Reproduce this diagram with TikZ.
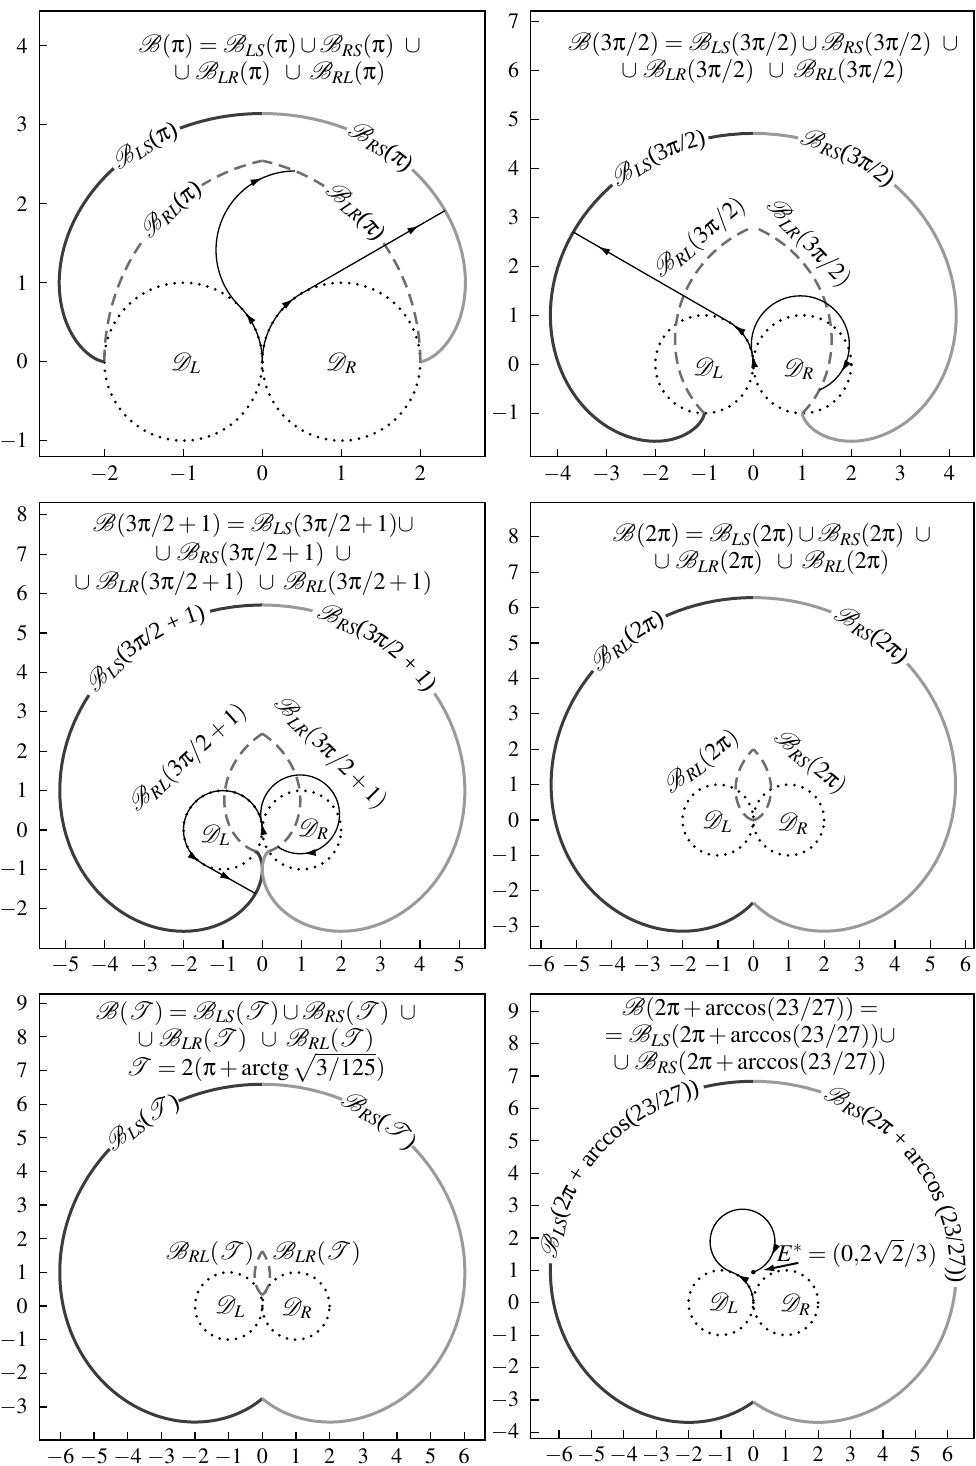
\documentclass[tikz,border=0pt]{standalone}
\usepackage{amsmath}
\usepackage{mathptmx}
\usepackage{mathrsfs}
\usepackage[Symbol]{upgreek}
\usepackage{fontspec}
\setmainfont{Liberation Serif}
\usetikzlibrary{arrows.meta,decorations.text,decorations.markings}
\definecolor{Dark}{HTML}{3C3C3C}
\definecolor{Light}{HTML}{9A9A9A}
\definecolor{Dash}{HTML}{6E6E6E}
\newcommand{\bset}{\mathscr{B}}
\newcommand{\dset}{\mathscr{D}}
\newcommand{\lscurve}[3]{plot[domain=#2:#3,samples=90,variable=\t] ({-1+cos(\t r)-(#1-\t)*sin(\t r)},{sin(\t r)+(#1-\t)*cos(\t r)})}
\newcommand{\rscurve}[3]{plot[domain=#2:#3,samples=90,variable=\t] ({1-cos(\t r)+(#1-\t)*sin(\t r)},{sin(\t r)+(#1-\t)*cos(\t r)})}
\newcommand{\lrcurve}[3]{plot[domain=#2:#3,samples=60,variable=\t] ({-1+2*cos(\t r)-cos((2*\t-#1) r)},{2*sin(\t r)-sin((2*\t-#1) r)})}
\newcommand{\rlcurve}[3]{plot[domain=#2:#3,samples=60,variable=\t] ({1-2*cos(\t r)+cos((2*\t-#1) r)},{2*sin(\t r)-sin((2*\t-#1) r)})}
\begin{document}
\begin{tikzpicture}[
    fr/.style={draw,line width=1.4pt},
    tk/.style={line width=1.2pt},
    xl/.style={anchor=north,inner sep=1pt,yshift=-7pt,font=\fontsize{22}{24}\selectfont},
    yl/.style={anchor=east,xshift=-3pt,font=\fontsize{22}{24}\selectfont},
    ls/.style={draw=Dark,line width=3pt},
    rs/.style={draw=Light,line width=3pt},
    dsh/.style={draw=Dash,line width=2.5pt,dash pattern=on 12pt off 7pt},
    dt/.style={line width=3pt,line cap=round,dash pattern=on 0pt off 8.3pt},
    tr/.style={line width=1.3pt},
    gp/.style={draw=white,line width=9pt},
    ar/.style={postaction={decorate},decoration={markings,mark=at position #1 with {\arrow{Latex[length=12pt,width=7pt]}}}},
    lb/.style={decorate,decoration={text along path,text={#1},text align=center,raise=-6.5pt}}]
\fontsize{24}{27}\selectfont
\useasboundingbox (0,0) rectangle (975pt,-1466pt);

\begin{scope}[shift={(262.3pt,-361.7pt)},x=79pt,y=79pt]
  \draw[fr] (-2.823,-1.203) rectangle (2.819,4.439);
  \foreach \x in {-2,...,2} \draw[tk] (\x,-1.203) node[xl] {$\x$} -- ++(0,8pt);
  \foreach \y in {-1,...,4} \draw[tk] (-2.823,\y) node[yl] {$\y$} -- ++(8pt,0);
  \draw[dt] (-1,0) circle[radius=1] (1,0) circle[radius=1];
  \draw[dsh] \lrcurve{3.1416}{0}{0.9046};
  \draw[dsh] \rlcurve{3.1416}{0}{0.9046};
  \draw[ls] \lscurve{3.1416}{0}{3.1416};
  \draw[rs] \rscurve{3.1416}{0}{3.1416};
  \draw[gp] \lscurve{3.1416}{0.36}{0.74};
  \draw[gp] \rscurve{3.1416}{0.37}{0.75};
  \draw[gp] \rlcurve{3.1416}{0.42}{0.68};
  \draw[gp] \lrcurve{3.1416}{0.41}{0.67};
  \path[lb={{$\bset_{LS}$}({$\uppi$})}] \lscurve{3.1416}{0.74}{0.36};
  \path[lb={{$\bset_{RS}$}({$\uppi$})}] \rscurve{3.1416}{0.37}{0.75};
  \path[lb={{$\bset_{RL}$}({$\uppi$})}] \rlcurve{3.1416}{0.42}{0.68};
  \path[lb={{$\bset_{LR}$}({$\uppi$})}] \lrcurve{3.1416}{0.67}{0.41};
  \node (dl1) at (-0.97,-0.02) {$\dset_L$};
  \node (dr1) at (1.0,-0.02) {$\dset_R$};
  \draw[tr,ar=0.85] (0,0) arc[start angle=0,end angle=45,radius=1];
  \draw[tr,ar=0.82] (-0.2929,0.7071) arc[start angle=225,end angle=90,radius=1];
  \draw[tr,ar=0.88] (0,0) arc[start angle=180,end angle=120,radius=1];
  \draw[tr,ar=0.82] (0.5,0.866) -- (2.3138,1.9132);
  \node[align=center] (ttl1) at (0.22,3.82) {$\bset(\uppi)=\bset_{LS}(\uppi)\cup\bset_{RS}(\uppi)\;\;\cup$\\$\cup\;\bset_{LR}(\uppi)\;\;\cup\;\bset_{RL}(\uppi)$};
\end{scope}

\begin{scope}[shift={(753.3pt,-364.3pt)},x=49pt,y=49pt]
  \draw[fr] (-4.543,-1.886) rectangle (4.504,7.21);
  \foreach \x in {-4,...,4} \draw[tk] (\x,-1.886) node[xl] {$\x$} -- ++(0,8pt);
  \foreach \y in {-1,...,7} \draw[tk] (-4.543,\y) node[yl] {$\y$} -- ++(8pt,0);
  \draw[dt] (-1,0) circle[radius=1] (1,0) circle[radius=1];
  \draw[dsh] \lrcurve{4.7124}{0}{1.3139};
  \draw[dsh] \rlcurve{4.7124}{0}{1.3139};
  \draw[ls] \lscurve{4.7124}{0}{4.7124};
  \draw[rs] \rscurve{4.7124}{0}{4.7124};
  \draw[gp] \lscurve{4.7124}{0.2}{0.72};
  \draw[gp] \rscurve{4.7124}{0.2}{0.72};
  \path[lb={{$\bset_{LS}$}(3{$\uppi$}/2)}] \lscurve{4.7124}{0.72}{0.2};
  \path[lb={{$\bset_{RS}$}(3{$\uppi$}/2)}] \rscurve{4.7124}{0.2}{0.72};
  \node[rotate=40] (rl2) at (-1.09,2.57) {$\bset_{RL}(3\uppi/2)$};
  \node[rotate=-47] (lr2) at (1.12,2.47) {$\bset_{LR}(3\uppi/2)$};
  \node (dl2) at (-0.92,-0.08) {$\dset_L$};
  \node (dr2) at (0.92,-0.1) {$\dset_R$};
  \draw[tr,ar=0.88] (0,0) arc[start angle=0,end angle=60,radius=1];
  \draw[tr,ar=0.84] (-0.5,0.866) -- (-3.6741,2.6986);
  \draw[tr,ar=0.9] (0,0) arc[start angle=0,end angle=11.46,radius=1];
  \draw[tr,ar=0.87] (-0.0199,0.1987) arc[start angle=191.46,end angle=-67.04,radius=1];
  \node[align=center] (ttl2) at (0.2,6.26) {$\bset(3\uppi/2)=\bset_{LS}(3\uppi/2)\cup\bset_{RS}(3\uppi/2)\;\;\cup$\\$\cup\;\bset_{LR}(3\uppi/2)\;\;\cup\;\bset_{RL}(3\uppi/2)$};
\end{scope}

\begin{scope}[shift={(262.3pt,-830pt)},x=39.4pt,y=39.4pt]
  \draw[fr] (-5.66,-3.0) rectangle (5.65,8.317);
  \foreach \x in {-5,...,5} \draw[tk] (\x,-3.0) node[xl] {$\x$} -- ++(0,8pt);
  \foreach \y in {-2,...,8} \draw[tk] (-5.66,\y) node[yl] {$\y$} -- ++(8pt,0);
  \draw[dt] (-1,0) circle[radius=1] (1,0) circle[radius=1];
  \draw[dsh] \lrcurve{5.7124}{0}{1.518};
  \draw[dsh] \rlcurve{5.7124}{0}{1.518};
  \draw[ls] \lscurve{5.7124}{0}{5.7124};
  \draw[rs] \rscurve{5.7124}{0}{5.7124};
  \draw[gp] \lscurve{5.7124}{0.24}{0.99};
  \draw[gp] \rscurve{5.7124}{0.23}{0.98};
  \path[lb={{$\bset_{LS}$}(3{$\uppi$}/2 + 1)}] \lscurve{5.7124}{0.99}{0.24};
  \path[lb={{$\bset_{RS}$}(3{$\uppi$}/2 + 1)}] \rscurve{5.7124}{0.23}{0.98};
  \node[rotate=42] (rl3) at (-1.88,1.82) {$\bset_{RL}(3\uppi/2+1)$};
  \node[rotate=-45] (lr3) at (1.72,1.95) {$\bset_{LR}(3\uppi/2+1)$};
  \node (dl3) at (-1.2,-0.13) {$\dset_L$};
  \node (dr3) at (1.29,0.02) {$\dset_R$};
  \draw[tr,ar=0.97] (0,0) arc[start angle=0,end angle=240.64,radius=1];
  \draw[tr,ar=0.55] (-1.4903,-0.8716) -- (-0.1721,-1.6131);
  \draw[tr,ar=0.9] (0,0) arc[start angle=0,end angle=11.46,radius=1];
  \draw[tr,ar=0.875] (-0.0199,0.1987) arc[start angle=191.46,end angle=-124.36,radius=1];
  \node[align=center] (ttl3) at (-0.23,7.0) {$\bset(3\uppi/2+1)=\bset_{LS}(3\uppi/2+1)\cup$\\[2pt]$\cup\;\bset_{RS}(3\uppi/2+1)\;\;\cup$\\[2pt]$\cup\;\bset_{LR}(3\uppi/2+1)\;\;\cup\;\bset_{RL}(3\uppi/2+1)$};
\end{scope}

\begin{scope}[shift={(753.3pt,-820pt)},x=35.4pt,y=35.4pt]
  \draw[fr] (-6.288,-3.624) rectangle (6.234,8.975);
  \foreach \x in {-6,...,6} \draw[tk] (\x,-3.624) node[xl] {$\x$} -- ++(0,8pt);
  \foreach \y in {-3,...,8} \draw[tk] (-6.288,\y) node[yl] {$\y$} -- ++(8pt,0);
  \draw[dt] (-1,0) circle[radius=1] (1,0) circle[radius=1];
  \draw[dsh] \lrcurve{6.2832}{0}{1.5708};
  \draw[dsh] \rlcurve{6.2832}{0}{1.5708};
  \draw[ls] \lscurve{6.2832}{0}{3.947};
  \draw[rs] \rscurve{6.2832}{0}{3.947};
  \draw[gp] \lscurve{6.2832}{0.42}{0.88};
  \draw[gp] \rscurve{6.2832}{0.37}{0.83};
  \path[lb={{$\bset_{RL}$}(2{$\uppi$})}] \lscurve{6.2832}{0.88}{0.42};
  \path[lb={{$\bset_{RS}$}(2{$\uppi$})}] \rscurve{6.2832}{0.37}{0.83};
  \node[rotate=38] (rl4) at (-1.46,1.63) {$\bset_{RL}(2\uppi)$};
  \node[rotate=-40] (rs4) at (1.6,1.63) {$\bset_{RS}(2\uppi)$};
  \node (dl4) at (-1.03,-0.05) {$\dset_L$};
  \node (dr4) at (1.11,-0.1) {$\dset_R$};
  \node[align=center] (ttl4) at (0.52,7.65) {$\bset(2\uppi)=\bset_{LS}(2\uppi)\cup\bset_{RS}(2\uppi)\;\;\cup$\\$\cup\;\bset_{LR}(2\uppi)\;\;\cup\;\bset_{RL}(2\uppi)$};
\end{scope}

\begin{scope}[shift={(262.3pt,-1306pt)},x=33.65pt,y=33.65pt]
  \draw[fr] (-6.627,-3.982) rectangle (6.618,9.272);
  \foreach \x in {-6,...,6} \draw[tk] (\x,-3.982) node[xl] {$\x$} -- ++(0,8pt);
  \foreach \y in {-3,...,9} \draw[tk] (-6.627,\y) node[yl] {$\y$} -- ++(8pt,0);
  \draw[dt] (-1,0) circle[radius=1] (1,0) circle[radius=1];
  \draw[dsh] \lrcurve{6.5906}{0.54}{1.536};
  \draw[dsh] \rlcurve{6.5906}{0.54}{1.536};
  \draw[ls] \lscurve{6.5906}{0}{3.8395};
  \draw[rs] \rscurve{6.5906}{0}{3.8395};
  \draw[gp] \lscurve{6.5906}{0.40}{0.82};
  \draw[gp] \rscurve{6.5906}{0.38}{0.80};
  \path[lb={{$\bset_{LS}$}({$\mathscr{T}$})}] \lscurve{6.5906}{0.82}{0.40};
  \path[lb={{$\bset_{RS}$}({$\mathscr{T}$})}] \rscurve{6.5906}{0.38}{0.80};
  \node (rl5) at (-1.55,1.57) {$\bset_{RL}(\mathscr{T})$};
  \node (lr5) at (1.62,1.57) {$\bset_{LR}(\mathscr{T})$};
  \node (dl5) at (-0.96,-0.02) {$\dset_L$};
  \node (dr5) at (1.02,-0.07) {$\dset_R$};
  \node[align=center] (ttl5) at (-0.19,7.85) {$\bset(\mathscr{T})=\bset_{LS}(\mathscr{T})\cup\bset_{RS}(\mathscr{T})\;\;\cup$\\$\cup\;\bset_{LR}(\mathscr{T})\;\;\cup\;\bset_{RL}(\mathscr{T})$\\$\mathscr{T}=2(\uppi+\operatorname{arctg}\sqrt{3/125})$};
\end{scope}

\begin{scope}[shift={(753.3pt,-1302.7pt)},x=32.4pt,y=32.4pt]
  \draw[fr] (-6.87,-4.185) rectangle (6.812,9.528);
  \foreach \x in {-6,...,6} \draw[tk] (\x,-4.185) node[xl] {$\x$} -- ++(0,8pt);
  \foreach \y in {-4,...,9} \draw[tk] (-6.87,\y) node[yl] {$\y$} -- ++(8pt,0);
  \draw[dt] (-1,0) circle[radius=1] (1,0) circle[radius=1];
  \draw[ls] \lscurve{6.8345}{0}{3.774};
  \draw[rs] \rscurve{6.8345}{0}{3.774};
  \draw[gp] \lscurve{6.8345}{0.23}{1.53};
  \draw[gp] \rscurve{6.8345}{0.32}{1.67};
  \path[lb={{$\bset_{LS}$}(2{$\uppi$} + arccos(23/27))}] \lscurve{6.8345}{1.53}{0.23};
  \path[lb={{$\bset_{RS}$}(2{$\uppi$} + arccos (23/27))}] \rscurve{6.8345}{0.32}{1.67};
  \node (dl6) at (-0.93,-0.02) {$\dset_L$};
  \node (dr6) at (1.29,-0.07) {$\dset_R$};
  \draw[tr,ar=0.85] (0,0) arc[start angle=0,end angle=70.53,radius=1];
  \draw[tr,ar=0.86] (-0.6667,0.9428) arc[start angle=250.53,end angle=-70.53,radius=1];
  \coordinate (estar) at (0,0.9428);
  \coordinate (etail) at (1.39,1.23);
  \fill (estar) circle[radius=2.2pt];
  \draw[line width=2pt,-{Latex[length=12pt,width=7pt]},shorten >=9pt] (etail) -- (estar);
  \node (elbl) at (3.2,1.52) {$E^{*}=(0{,}2\sqrt{2}/3)$};
  \node[align=center] (ttl6) at (-0.1,8.21) {$\bset(2\uppi+\arccos(23/27))=$\\$=\bset_{LS}(2\uppi+\arccos(23/27))\cup$\\$\cup\;\bset_{RS}(2\uppi+\arccos(23/27))$};
\end{scope}
\end{tikzpicture}
\end{document}
